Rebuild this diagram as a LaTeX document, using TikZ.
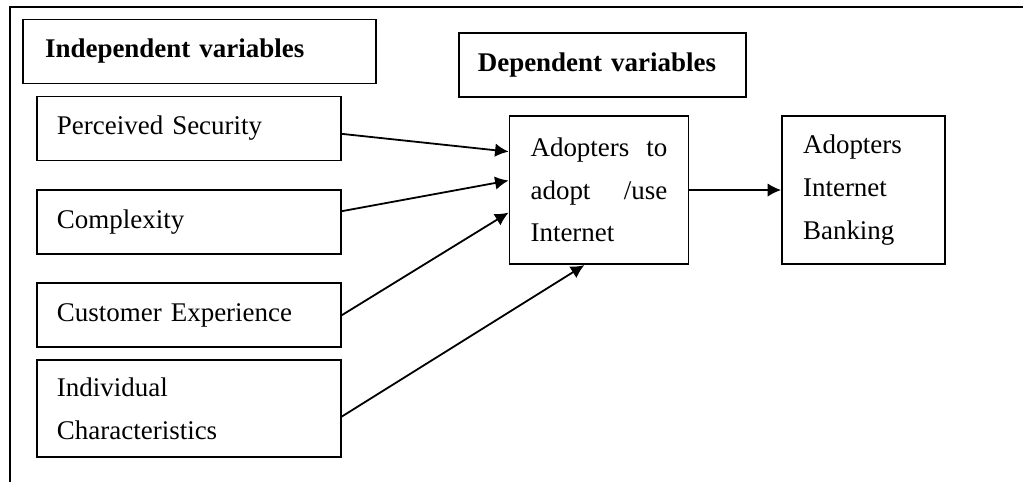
\documentclass[tikz,border=0pt]{standalone}
\usepackage{fontspec}
\setmainfont{Liberation Serif}
\usepackage{tikz}
\usetikzlibrary{arrows.meta}
\tikzstyle{header} = [rectangle, draw=black, line width=0.8pt, minimum height=1cm, align=left, font=\fontsize{12pt}{19pt}\selectfont\bfseries]
\tikzstyle{factor} = [rectangle, draw=black, line width=0.8pt, inner xsep=0.31cm, text width=4.13cm, minimum height=1cm, align=left]
\tikzstyle{outcome} = [rectangle, draw=black, line width=0.8pt, inner xsep=0.33cm, minimum height=2.32cm, align=left]
\tikzstyle{arrow} = [line width=0.8pt, -{Latex[length=6pt,width=6pt]}]

\begin{document}
\begin{tikzpicture}[node distance=1.46cm, every node/.style={font=\fontsize{12pt}{19pt}\selectfont}]

\useasboundingbox (0,0) rectangle (16,-7.538);
% open frame, left and top only
\draw [line width=0.8pt] (0.156,-7.6) |- (16.1,-0.11);

\node (indep) [header, inner xsep=0.344cm, text width=4.83cm] at (3.12,-0.805) {Independent variables};
\node (dep) [header, inner xsep=0.297cm, text width=3.9cm] at (9.423,-1.017) {Dependent variables};

\node (sec) [factor] at (2.956,-2.01) {Perceived Security};
\node (cmplx) [factor, below of=sec] {Complexity};
\node (exper) [factor, below of=cmplx] {Customer Experience};
\node (indiv) [factor, below of=exper, minimum height=1.52cm] {Individual\\Characteristics};

\node (adopt) [outcome, text width=2.14cm] at (9.368,-2.972) {Adopters\hfill to\\adopt\hfill /use\\Internet};
\node (bank) [outcome, text width=1.89cm, right of=adopt, node distance=4.137cm] {Adopters\\Internet\\Banking};

\draw [arrow] (sec.-2) -- (adopt.157);
\draw [arrow] (cmplx.4) -- (adopt.174);
\draw [arrow] (exper.east) -- (adopt.194);
\draw [arrow] (indiv.-3.5) -- (adopt.259);
\draw [arrow] (adopt) -- (bank);

\end{tikzpicture}
\end{document}
